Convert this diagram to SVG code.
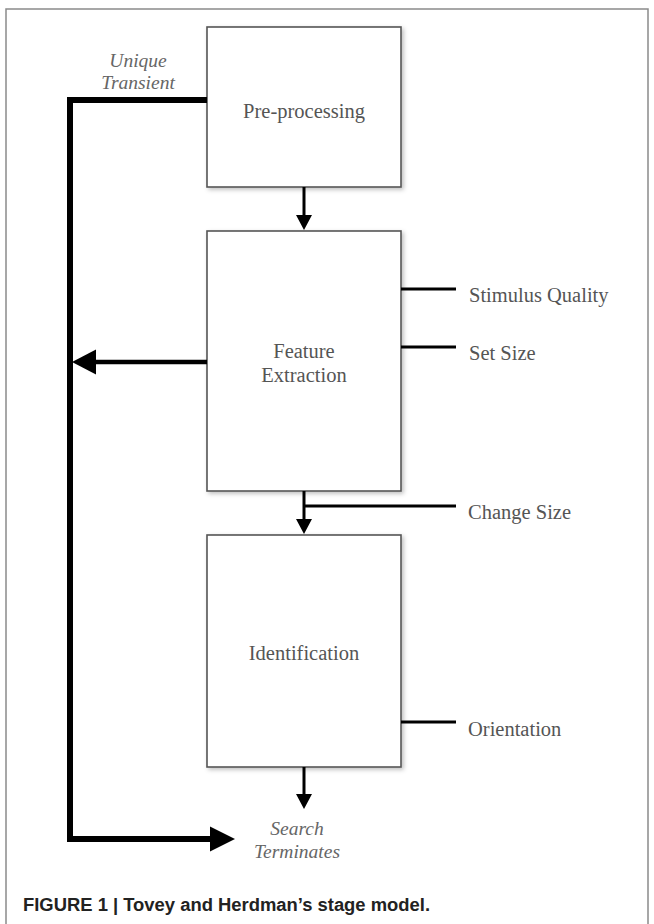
<svg xmlns="http://www.w3.org/2000/svg" width="654" height="924" viewBox="0 0 654 924">
<style>
.box{fill:#fff;stroke:#555;stroke-width:1.6}
.lbl{font-family:"Liberation Serif",serif;font-size:20.5px;fill:#555}
.it{font-family:"Liberation Serif",serif;font-style:italic;font-size:19.5px;fill:#666;text-anchor:middle}
.thin{stroke:#000;stroke-width:3;fill:none}
.thick{stroke:#000;stroke-width:6;fill:none;stroke-linejoin:miter}
.cap{font-family:"Liberation Sans",Arial,sans-serif;font-weight:bold;font-size:18px;fill:#222}
</style>
<defs>
<filter id="sh" x="-10%" y="-10%" width="130%" height="130%">
<feDropShadow dx="2" dy="2" stdDeviation="2" flood-color="#000" flood-opacity="0.25"/>
</filter>
</defs>
<rect width="654" height="924" fill="#fff"/>
<rect x="6" y="9" width="642" height="950" fill="none" stroke="#8a8a8a" stroke-width="1.5"/>

<g id="preprocessing">
<rect class="box" x="207" y="27" width="194" height="160" filter="url(#sh)"/>
<text class="lbl" x="304" y="118" text-anchor="middle">Pre-processing</text>
</g>
<g id="feature-extraction">
<rect class="box" x="207" y="231" width="194" height="260" filter="url(#sh)"/>
<text class="lbl" x="304" y="358" text-anchor="middle">Feature</text>
<text class="lbl" x="304" y="382" text-anchor="middle">Extraction</text>
</g>
<g id="identification">
<rect class="box" x="207" y="535" width="194" height="232" filter="url(#sh)"/>
<text class="lbl" x="304" y="660" text-anchor="middle">Identification</text>
</g>
<g id="unique-transient">
<text class="it" x="138" y="67">Unique</text>
<text class="it" x="138" y="89">Transient</text>
</g>
<g id="search-terminates">
<text class="it" x="297" y="835">Search</text>
<text class="it" x="297" y="858">Terminates</text>
</g>
<g id="factors">
<text class="lbl" x="469" y="302">Stimulus Quality</text>
<text class="lbl" x="469" y="360">Set Size</text>
<text class="lbl" x="468" y="519">Change Size</text>
<text class="lbl" x="468" y="736">Orientation</text>
</g>

<g id="connectors">
<line class="thin" x1="304" y1="187" x2="304" y2="216"/>
<polygon points="296,215 312,215 304,230"/>
<line class="thin" x1="304" y1="491" x2="304" y2="520"/>
<polygon points="296,519 312,519 304,534"/>
<line class="thin" x1="304" y1="506" x2="456" y2="506"/>
<line class="thin" x1="304" y1="767" x2="304" y2="795"/>
<polygon points="296,794 312,794 304,809"/>
<line class="thin" x1="401" y1="289" x2="456" y2="289"/>
<line class="thin" x1="401" y1="347" x2="456" y2="347"/>
<line class="thin" x1="401" y1="722" x2="456" y2="722"/>
<path class="thick" d="M207,100 H70 V839 H212"/>
<polygon points="210,826.5 210,851.5 235,839"/>
<line stroke="#000" stroke-width="4.5" x1="207" y1="362" x2="94" y2="362"/>
<polygon points="96,349.5 96,374.5 72,362"/>
</g>

<text class="cap" x="23" y="911" textLength="407" lengthAdjust="spacingAndGlyphs">FIGURE 1 | Tovey and Herdman’s stage model.</text>
</svg>
